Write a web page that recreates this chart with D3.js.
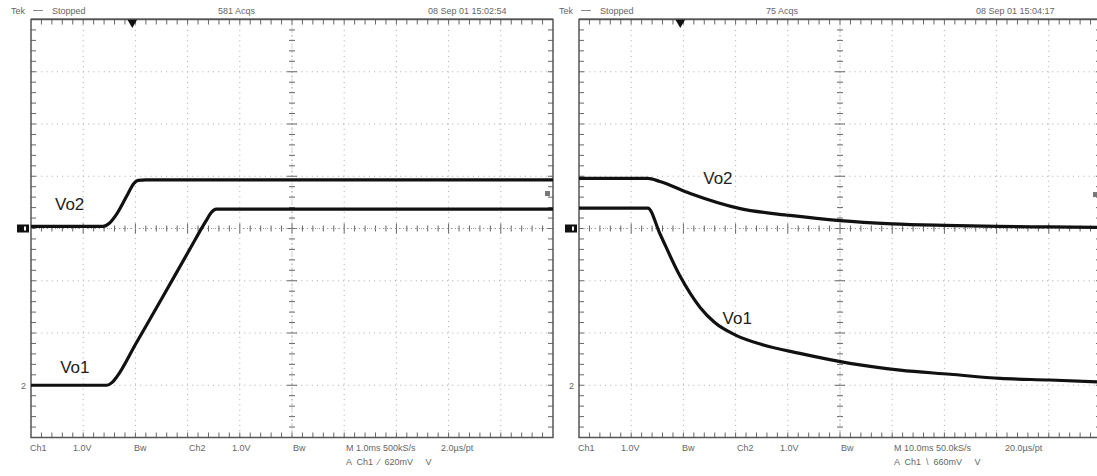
<!DOCTYPE html>
<html lang="en">
<head>
    <meta charset="UTF-8">
    <title>Vo1 / Vo2 scope captures</title>
    <script src="https://cdnjs.cloudflare.com/ajax/libs/d3/7.8.5/d3.min.js"></script>
    <style>
        body { margin: 0; background: #fff; }
        svg { display: block; font-family: "Liberation Sans", Arial, sans-serif; }
        .info { font-size: 9px; fill: #666; white-space: pre; }
        .label { font-size: 17px; fill: #222; }
    </style>
</head>
<body>
    <svg id="chart" width="1097" height="476"></svg>

    <script>
        // ---- data read off the two captures (time in ms, volts above channel ground) ----
        // power-up, 1.0ms/div
        const upVo2 = [[0, 0.04], [1.38, 0.04], [1.5, 0.1], [1.65, 0.29], [1.86, 0.67], [1.97, 0.86], [2.05, 0.92], [2.2, 0.93], [10, 0.93]];
        const upVo1 = [[0, 0], [1.45, 0], [1.55, 0.05], [1.65, 0.17], [2.0, 0.78], [2.5, 1.65], [3.0, 2.53], [3.35, 3.14], [3.45, 3.3], [3.55, 3.37], [10, 3.37]];
        // power-down, 10ms/div
        const downVo2 = [[0, 0.96], [13.2, 0.96], [15.5, 0.9], [21.3, 0.67], [30.9, 0.38], [40.4, 0.25], [50, 0.15], [60, 0.09], [70, 0.06], [80, 0.04], [90, 0.03], [100, 0.02]];
        const downVo1 = [[0, 3.39], [13.2, 3.39], [15.5, 2.9], [19.3, 2.1], [23.2, 1.49], [26, 1.2], [30, 0.96], [35, 0.78], [42.3, 0.61], [51.9, 0.42], [61.5, 0.29], [71.1, 0.21], [80.7, 0.13], [90.2, 0.1], [100, 0.06]];

        const topLeft = ["Tek", "Stopped", "581 Acqs", "08 Sep 01 15:02:54"];
        const topRight = ["Tek", "Stopped", "75 Acqs", "08 Sep 01 15:04:17"];
        const bottomLeft = ["Ch1", "1.0V", "Bw", "Ch2", "1.0V", "Bw", "M 1.0ms 500kS/s", "2.0\u00b5s/pt", "A  Ch1  \u2215  620mV     V"];
        const bottomRight = ["Ch1", "1.0V", "Bw", "Ch2", "1.0V", "Bw", "M 10.0ms 50.0kS/s", "20.0\u00b5s/pt", "A  Ch1  \\  660mV     V"];

        const svg = d3.select("#chart");
        const W = 522, H = 418, TOP = 19.5;

        // volts/div and ground offset (div) for each channel
        const ch1 = { vdiv: 1, offset: 0 };
        const ch2 = { vdiv: 1, offset: -3 };

        function drawScreen(cfg) {
            const g = svg.append("g").attr("transform", `translate(${cfg.x0},${TOP})`);
            const x = d3.scaleLinear().domain([0, 10 * cfg.tdiv]).range([0, W]);
            const y = d3.scaleLinear().domain([-4, 4]).range([H, 0]);
            const dx = W / 10, dy = H / 8;

            // dotted graticule
            const grid = g.append("g").attr("stroke", "#aaa").attr("stroke-width", 1).attr("stroke-dasharray", "1,4.2");
            d3.range(1, 10).forEach(i => {
                grid.append("line").attr("x1", i * dx).attr("x2", i * dx).attr("y1", 0).attr("y2", H);
            });
            d3.range(1, 8).forEach(i => {
                grid.append("line").attr("y1", i * dy).attr("y2", i * dy).attr("x1", 0).attr("x2", W);
            });

            // minor ticks on centre lines and border
            const ticks = g.append("g").attr("stroke", "#666").attr("stroke-width", 1);
            d3.range(1, 50).forEach(i => {
                const xx = i * dx / 5;
                const big = i % 5 === 0 ? 5 : 3;
                ticks.append("line").attr("x1", xx).attr("x2", xx).attr("y1", H / 2 - big).attr("y2", H / 2 + big);
                ticks.append("line").attr("x1", xx).attr("x2", xx).attr("y1", 0).attr("y2", 5);
                ticks.append("line").attr("x1", xx).attr("x2", xx).attr("y1", H - 5).attr("y2", H);
            });
            d3.range(1, 40).forEach(i => {
                const yy = i * dy / 5;
                const big = i % 5 === 0 ? 5 : 3;
                ticks.append("line").attr("y1", yy).attr("y2", yy).attr("x1", W / 2 - big).attr("x2", W / 2 + big);
                ticks.append("line").attr("y1", yy).attr("y2", yy).attr("x1", 0).attr("x2", 5);
                ticks.append("line").attr("y1", yy).attr("y2", yy).attr("x1", W - 5).attr("x2", W);
            });
            ticks.append("line").attr("x1", W / 2).attr("x2", W / 2).attr("y1", 0).attr("y2", H).attr("stroke-dasharray", "1,3").attr("stroke", "#999");
            ticks.append("line").attr("y1", H / 2).attr("y2", H / 2).attr("x1", 0).attr("x2", W).attr("stroke-dasharray", "1,3").attr("stroke", "#999");

            g.append("rect").attr("width", W).attr("height", H)
                .attr("fill", "none").attr("stroke", "#555").attr("stroke-width", 1.5);
            g.append("line").attr("x1", 0).attr("x2", W).attr("y1", -1).attr("y2", -1)
                .attr("stroke", "#888").attr("stroke-width", 1);

            // traces
            const traceLine = ch => d3.line()
                .x(d => x(d[0]))
                .y(d => y(d[1] / ch.vdiv + ch.offset))
                .curve(d3.curveMonotoneX);
            [[cfg.vo2, ch1], [cfg.vo1, ch2]].forEach(([data, ch]) => {
                g.append("path").datum(data)
                    .attr("d", traceLine(ch))
                    .attr("fill", "none").attr("stroke", "#111")
                    .attr("stroke-width", 3.2).attr("stroke-linejoin", "round");
            });

            // trace names
            cfg.labels.forEach(l => {
                g.append("text").attr("class", "label")
                    .attr("x", x(l.t)).attr("y", y(l.div)).text(l.name);
            });

            // ground markers, trigger position, trigger level
            g.append("rect").attr("x", -14).attr("y", y(ch1.offset) - 4).attr("width", 12).attr("height", 8).attr("fill", "#111");
            g.append("rect").attr("x", -7).attr("y", y(ch1.offset) - 2).attr("width", 2).attr("height", 4).attr("fill", "#fff");
            g.append("text").attr("class", "info").attr("x", -10).attr("y", y(ch2.offset) + 4).text("2");
            g.append("path").attr("d", d3.symbol(d3.symbolTriangle, 40)())
                .attr("transform", `translate(${x(cfg.trigT)},3) rotate(180)`).attr("fill", "#111");
            g.append("rect").attr("x", W - 8).attr("y", y(cfg.trigLevel) - 2.5).attr("width", 5).attr("height", 5).attr("fill", "#777");

            // header / footer readouts
            const top = [-20, 21, 187, 397];
            cfg.top.forEach((s, i) => {
                g.append("text").attr("class", "info").attr("x", top[i]).attr("y", -6).text(s);
            });
            g.append("line").attr("x1", 2).attr("x2", 12).attr("y1", -9).attr("y2", -9).attr("stroke", "#888");
            const bx = [-1, 42, 103, 158, 201, 262, 315, cfg.ptX, 315];
            cfg.bottom.forEach((s, i) => {
                g.append("text").attr("class", "info")
                    .attr("x", bx[i]).attr("y", i === 8 ? H + 27 : H + 13).text(s);
            });
        }

        drawScreen({
            x0: 31, tdiv: 1, vo2: upVo2, vo1: upVo1, trigT: 1.94, trigLevel: 0.67,
            top: topLeft, bottom: bottomLeft, ptX: 410,
            labels: [{ name: "Vo2", t: 0.46, div: 0.36 }, { name: "Vo1", t: 0.56, div: -2.77 }]
        });
        drawScreen({
            x0: 579, tdiv: 10, vo2: downVo2, vo1: downVo1, trigT: 19.4, trigLevel: 0.65,
            top: topRight, bottom: bottomRight, ptX: 426,
            labels: [{ name: "Vo2", t: 23.8, div: 0.86 }, { name: "Vo1", t: 27.5, div: -1.83 }]
        });
    </script>
</body>
</html>
